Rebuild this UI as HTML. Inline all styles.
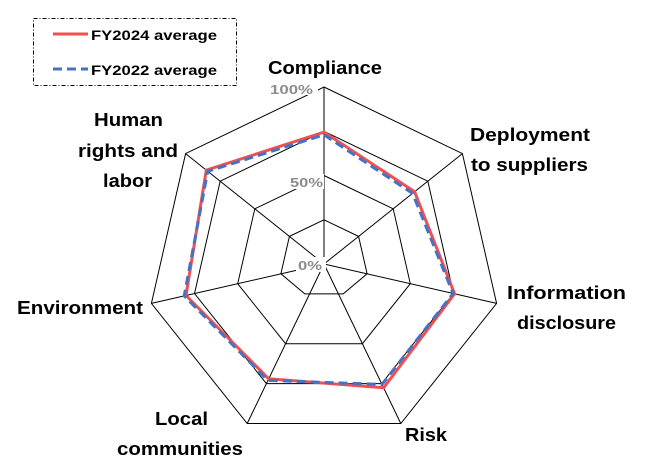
<!DOCTYPE html>
<html><head><style>
html,body{margin:0;padding:0;background:#fff;}
svg{display:block;font-family:"Liberation Sans",sans-serif;}
.l{font-size:18px;font-weight:bold;fill:#000;}
.p{font-size:13px;font-weight:bold;fill:#8c8c8c;}
</style></head><body>
<svg width="650" height="475" viewBox="0 0 650 475">
<rect width="650" height="475" fill="#fff"/>
<g fill="none" stroke="#000" stroke-width="1">
<polygon points="324,87 462.4,153.6 496.6,303.4 400.8,423.5 247.2,423.5 151.4,303.4 185.6,153.6"/>
<polygon points="324,131.3 427.8,181.2 453.5,293.5 381.6,383.6 266.4,383.6 194.5,293.5 220.2,181.2"/>
<polygon points="324,175.5 393.2,208.8 410.3,283.7 362.4,343.7 285.6,343.7 237.7,283.7 254.8,208.8"/>
<polygon points="324,219.8 358.6,236.4 367.1,273.8 343.2,293.9 304.8,293.9 280.9,273.8 289.4,236.4"/>
<line x1="324" y1="264" x2="324" y2="87"/>
<line x1="324" y1="264" x2="462.4" y2="153.6"/>
<line x1="324" y1="264" x2="496.6" y2="303.4"/>
<line x1="324" y1="264" x2="400.8" y2="423.5"/>
<line x1="324" y1="264" x2="247.2" y2="423.5"/>
<line x1="324" y1="264" x2="151.4" y2="303.4"/>
<line x1="324" y1="264" x2="185.6" y2="153.6"/>
</g>
<polygon fill="none" stroke="#f05050" stroke-width="3" points="324,132.1 414.6,191.7 454.6,293.8 383.6,387.8 268.7,378.8 186,295.5 206.3,170.2"/>
<polygon fill="none" stroke="#4472c4" stroke-width="3" stroke-dasharray="9,5" points="324,134.8 412.6,193.4 453.1,293.5 382,384.4 267.9,380.4 184.2,295.9 207.7,171.3"/>
<rect x="268" y="80" width="50" height="15" fill="#fff"/>
<text class="p" x="270" y="94" textLength="43" lengthAdjust="spacingAndGlyphs">100%</text>
<rect x="288" y="174" width="36" height="15" fill="#fff"/>
<text class="p" x="290" y="187" textLength="33" lengthAdjust="spacingAndGlyphs">50%</text>
<rect x="296" y="257" width="30" height="15" fill="#fff"/>
<text class="p" x="298" y="270" textLength="24" lengthAdjust="spacingAndGlyphs">0%</text>
<text class="l" x="268" y="74" textLength="114" lengthAdjust="spacingAndGlyphs">Compliance</text>
<text class="l" x="470" y="141" textLength="120" lengthAdjust="spacingAndGlyphs">Deployment</text>
<text class="l" x="471" y="171" textLength="117" lengthAdjust="spacingAndGlyphs">to suppliers</text>
<text class="l" x="507" y="299" textLength="119" lengthAdjust="spacingAndGlyphs">Information</text>
<text class="l" x="517" y="329" textLength="99" lengthAdjust="spacingAndGlyphs">disclosure</text>
<text class="l" x="405" y="441" textLength="42" lengthAdjust="spacingAndGlyphs">Risk</text>
<text class="l" x="155" y="425" textLength="53" lengthAdjust="spacingAndGlyphs">Local</text>
<text class="l" x="117" y="455" textLength="126" lengthAdjust="spacingAndGlyphs">communities</text>
<text class="l" x="17" y="314" textLength="126" lengthAdjust="spacingAndGlyphs">Environment</text>
<text class="l" x="94" y="126" textLength="69" lengthAdjust="spacingAndGlyphs">Human</text>
<text class="l" x="78" y="157" textLength="100" lengthAdjust="spacingAndGlyphs">rights and</text>
<text class="l" x="103" y="187" textLength="49" lengthAdjust="spacingAndGlyphs">labor</text>
<rect x="33.5" y="18.5" width="203" height="67" fill="#fff" stroke="#000" stroke-width="1" stroke-dasharray="4,2,1,2"/>
<line x1="53" y1="34" x2="88" y2="34" stroke="#f05050" stroke-width="3"/>
<line x1="53" y1="69" x2="88" y2="69" stroke="#4472c4" stroke-width="3" stroke-dasharray="9,5"/>
<text x="91" y="40" font-size="14" font-weight="bold" textLength="126" lengthAdjust="spacingAndGlyphs">FY2024 average</text>
<text x="91" y="75" font-size="14" font-weight="bold" textLength="126" lengthAdjust="spacingAndGlyphs">FY2022 average</text>
</svg>
</body></html>
